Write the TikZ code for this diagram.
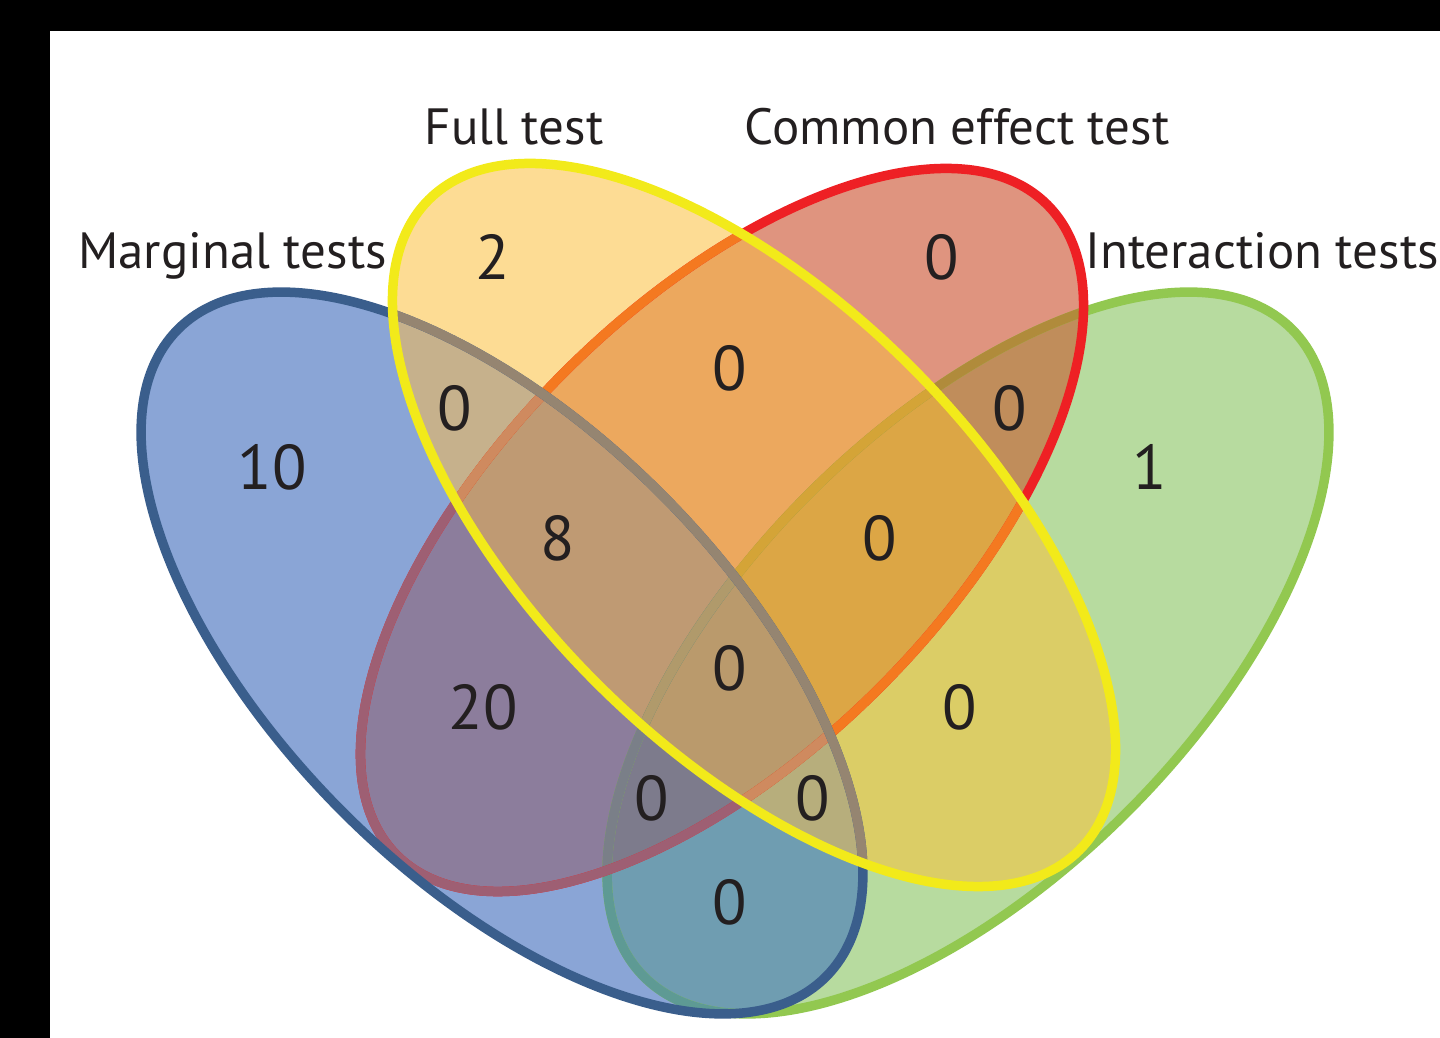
\documentclass[tikz,border=0pt]{standalone}
\usepackage{fontspec}
\setmainfont{PT Sans}

% colori delle zone
\definecolor{cB}{HTML}{8AA5D6}
\definecolor{cG}{HTML}{B7DB9F}
\definecolor{cR}{HTML}{DF947F}
\definecolor{cY}{HTML}{FDDC94}
\definecolor{cBG}{HTML}{6F9DB1}
\definecolor{cBR}{HTML}{8C7D9C}
\definecolor{cBY}{HTML}{C6B18C}
\definecolor{cGR}{HTML}{C08D5B}
\definecolor{cGY}{HTML}{DBCD66}
\definecolor{cRY}{HTML}{ECA85E}
\definecolor{cBGR}{HTML}{7D7B8C}
\definecolor{cBGY}{HTML}{B7AE7C}
\definecolor{cBRY}{HTML}{BF9A73}
\definecolor{cGRY}{HTML}{DCA645}
\definecolor{cBGRY}{HTML}{BA9A6C}
% colori dei bordi
\definecolor{sB}{HTML}{3A5E8C}
\definecolor{sBY}{HTML}{958571}
\definecolor{sG}{HTML}{92C850}
\definecolor{sGR}{HTML}{B08B3B}
\definecolor{sGRY}{HTML}{D4A437}
\definecolor{sGB}{HTML}{5E9A94}
\definecolor{sGBR}{HTML}{7A7F88}
\definecolor{sGBRY}{HTML}{B09A6B}
\definecolor{sR}{HTML}{EE2024}
\definecolor{sRB}{HTML}{9E5F73}
\definecolor{sRY}{HTML}{F47920}
\definecolor{sRBY}{HTML}{CF8A5F}
\definecolor{sY}{HTML}{F2EA1A}
\definecolor{testo}{HTML}{231F20}

% le quattro ellissi
\newcommand{\ellB}{(10.04,7.70) ellipse (9.16 and 4.5)}
\newcommand{\ellG}{(19.36,7.70) ellipse (9.16 and 4.5)}
\newcommand{\ellR}{(14.44,10.16) ellipse (9.2 and 4.46)}
\newcommand{\ellY}{(15.08,10.26) ellipse (9.2 and 4.46)}
\newcommand{\inB}{\clip[rotB] \ellB;}
\newcommand{\inG}{\clip[rotG] \ellG;}
\newcommand{\inR}{\clip[rotR] \ellR;}
\newcommand{\inY}{\clip[rotY] \ellY;}
\newcommand{\zona}[2]{\begin{scope}#1\fill[#2] (0,0) rectangle (28.8,20.76);\end{scope}}

\tikzset{
  rotB/.style={rotate around={-45:(10.04,7.70)}},
  rotG/.style={rotate around={45:(19.36,7.70)}},
  rotR/.style={rotate around={45:(14.44,10.16)}},
  rotY/.style={rotate around={-45:(15.08,10.26)}},
  bordo/.style={line width=0.19cm},
  numero/.style={text=testo, font=\fontsize{36}{36}\selectfont},
  etichetta/.style={text=testo, anchor=base, font=\fontsize{29}{29}\selectfont},
}

\begin{document}
\begin{tikzpicture}
\useasboundingbox (0,0) rectangle (28.8,20.76);
% cornice nera
\fill[black] (0,0) rectangle (1,20.76);
\fill[black] (0,20.14) rectangle (28.8,20.76);

% zone, dalla singola all'intersezione di tutte
\zona{\inB}{cB}
\zona{\inG}{cG}
\zona{\inR}{cR}
\zona{\inY}{cY}
\zona{\inB\inG}{cBG}
\zona{\inB\inR}{cBR}
\zona{\inB\inY}{cBY}
\zona{\inG\inR}{cGR}
\zona{\inG\inY}{cGY}
\zona{\inR\inY}{cRY}
\zona{\inB\inG\inR}{cBGR}
\zona{\inB\inG\inY}{cBGY}
\zona{\inB\inR\inY}{cBRY}
\zona{\inG\inR\inY}{cGRY}
\zona{\inB\inG\inR\inY}{cBGRY}

% bordo verde
\draw[rotG, bordo, draw=sG] \ellG;
\begin{scope}\inR \draw[rotG, bordo, draw=sGR] \ellG; \end{scope}
\begin{scope}\inR\inY \draw[rotG, bordo, draw=sGRY] \ellG; \end{scope}
\begin{scope}\inB \draw[rotG, bordo, draw=sGB] \ellG; \end{scope}
\begin{scope}\inB\inR \draw[rotG, bordo, draw=sGBR] \ellG; \end{scope}
\begin{scope}\inB\inR\inY \draw[rotG, bordo, draw=sGBRY] \ellG; \end{scope}
% bordo rosso
\draw[rotR, bordo, draw=sR] \ellR;
\begin{scope}\inB \draw[rotR, bordo, draw=sRB] \ellR; \end{scope}
\begin{scope}\inY \draw[rotR, bordo, draw=sRY] \ellR; \end{scope}
\begin{scope}\inB\inY \draw[rotR, bordo, draw=sRBY] \ellR; \end{scope}
% bordo blu
\draw[rotB, bordo, draw=sB] \ellB;
\begin{scope}\inY \draw[rotB, bordo, draw=sBY] \ellB; \end{scope}
% bordo giallo
\draw[rotY, bordo, draw=sY] \ellY;

% etichette
\node[etichetta] (lblB) at (4.65,15.38) {Marginal tests};
\node[etichetta] (lblY) at (10.28,17.86) {Full test};
\node[etichetta] (lblR) at (19.14,17.86) {Common effect test};
\node[etichetta] (lblG) at (25.24,15.38) {Interaction tests};

% numeri nelle zone
\node[numero] (nY) at (9.86,15.62) {2};
\node[numero] (nR) at (18.84,15.62) {0};
\node[numero] (nB) at (5.44,11.42) {10};
\node[numero] (nG) at (23.00,11.42) {1};
\node[numero] (nRY) at (14.60,13.40) {0};
\node[numero] (nBY) at (9.10,12.60) {0};
\node[numero] (nGR) at (20.20,12.60) {0};
\node[numero] (nBRY) at (11.16,10.00) {8};
\node[numero] (nGRY) at (17.60,10.00) {0};
\node[numero] (nBGRY) at (14.60,7.40) {0};
\node[numero] (nBR) at (9.66,6.62) {20};
\node[numero] (nGY) at (19.20,6.62) {0};
\node[numero] (nBGR) at (13.04,4.80) {0};
\node[numero] (nBGY) at (16.26,4.80) {0};
\node[numero] (nBG) at (14.60,2.72) {0};
\end{tikzpicture}
\end{document}
